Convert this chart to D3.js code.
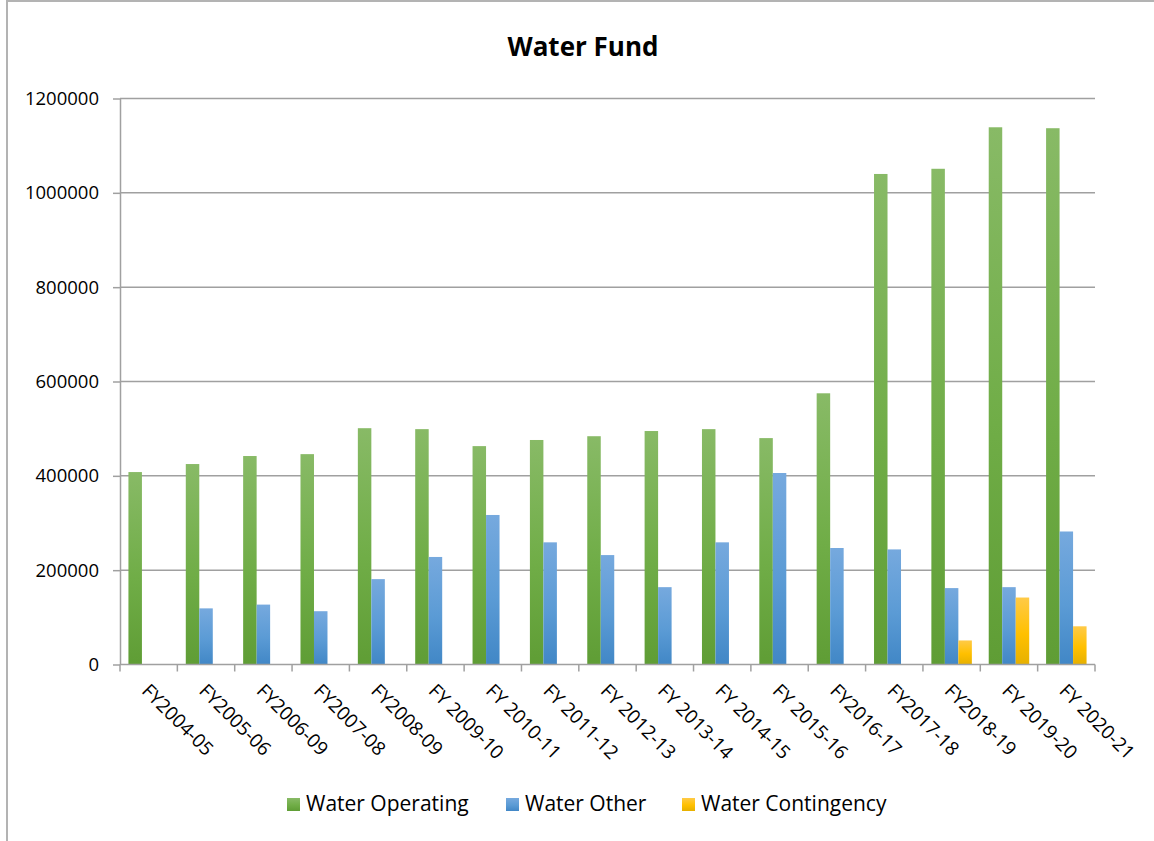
<!DOCTYPE html>
<html>
<head>
<meta charset="utf-8">
<script src="https://cdn.jsdelivr.net/npm/d3@7"></script>
<style>
  body { margin: 0; background: #fff; }
  svg { display: block; font-family: "Open Sans", "Liberation Sans", sans-serif; }
</style>
</head>
<body>
<svg id="chart" width="1154" height="841"></svg>
<script>
// data
var years = ["FY2004-05", "FY2005-06", "FY2006-09", "FY2007-08", "FY2008-09", "FY 2009-10",
    "FY 2010-11", "FY 2011-12", "FY 2012-13", "FY 2013-14", "FY 2014-15", "FY 2015-16",
    "FY2016-17", "FY2017-18", "FY2018-19", "FY 2019-20", "FY 2020-21"];
var water_operating = [408000, 425000, 442000, 446000, 501000, 499000, 463000, 476000, 484000,
    495000, 499000, 480000, 575000, 1040000, 1051000, 1139000, 1137000];
var water_other = [0, 119000, 127000, 113000, 181000, 228000, 317000, 259000, 232000,
    164000, 259000, 406000, 247000, 244000, 162000, 164000, 282000];
var water_contingency = [0, 0, 0, 0, 0, 0, 0, 0, 0, 0, 0, 0, 0, 0, 51000, 142000, 81000];
var series_names = ["Water Operating", "Water Other", "Water Contingency"];
var y_ticks = [0, 200000, 400000, 600000, 800000, 1000000, 1200000];

var svg = d3.select("#chart");

var plot_left = 120, plot_right = 1095, plot_top = 98.5, plot_bottom = 664.5;

// gradients like the office chart fill
var grads = [
    {id: "g_green", c: ["#88ba66", "#70ad47", "#5f9d35"]},
    {id: "g_blue", c: ["#76a9de", "#5b9bd5", "#4187c6"]},
    {id: "g_gold", c: ["#ffca47", "#ffc000", "#e6b000"]}
];
var defs = svg.append("defs");
grads.forEach(function (g) {
    var lg = defs.append("linearGradient").attr("id", g.id)
        .attr("x1", 0).attr("y1", 0).attr("x2", 0).attr("y2", 1);
    lg.append("stop").attr("offset", "0%").attr("stop-color", g.c[0]);
    lg.append("stop").attr("offset", "55%").attr("stop-color", g.c[1]);
    lg.append("stop").attr("offset", "100%").attr("stop-color", g.c[2]);
});

// outer frame
svg.append("rect")
    .attr("x", 7).attr("y", 1)
    .attr("width", 1200).attr("height", 900)
    .attr("fill", "none")
    .attr("stroke", "#b3b3b3")
    .attr("stroke-width", 2);

svg.append("text")
    .attr("x", 583).attr("y", 56)
    .attr("text-anchor", "middle")
    .attr("font-size", 26)
    .attr("font-weight", "bold")
    .attr("fill", "#000")
    .text("Water Fund");

var x = d3.scaleBand().domain(years).range([plot_left, plot_right]).paddingInner(0).paddingOuter(0);
var y = d3.scaleLinear().domain([0, 1200000]).range([plot_bottom, plot_top]);

var band = x.bandwidth();
var barW = band / 4.25;   // gap width 125%

// gridlines
svg.append("g").selectAll("line")
    .data(y_ticks.slice(1))
    .enter().append("line")
    .attr("x1", plot_left).attr("x2", plot_right)
    .attr("y1", function (d) { return y(d); })
    .attr("y2", function (d) { return y(d); })
    .attr("stroke", "#a0a0a0")
    .attr("stroke-width", 1.5);

// y axis
var yAxis = svg.append("g")
    .attr("transform", "translate(" + plot_left + ",0)")
    .call(d3.axisLeft(y).tickValues(y_ticks).tickSize(7).tickSizeOuter(0).tickPadding(14)
        .tickFormat(function (d) { return d; }));
yAxis.select(".domain").attr("stroke", "#a0a0a0").attr("stroke-width", 1.5);
yAxis.selectAll(".tick line").attr("stroke", "#a0a0a0").attr("stroke-width", 1.5);
yAxis.selectAll(".tick text")
    .attr("font-size", 18.5)
    .attr("font-family", "Open Sans")
    .attr("fill", "#000");

// bars
var all_series = [water_operating, water_other, water_contingency];
all_series.forEach(function (vals, si) {
    svg.append("g").selectAll("rect")
        .data(vals)
        .enter().append("rect")
        .attr("x", function (d, i) { return x(years[i]) + 0.625 * barW + si * barW; })
        .attr("y", function (d) { return y(d); })
        .attr("width", barW)
        .attr("height", function (d) { return y(0) - y(d); })
        .attr("fill", "url(#" + grads[si].id + ")");
});

// x axis
var tick_pos = years.map(function (d) { return x(d); }).concat([plot_right]);
svg.append("line")
    .attr("x1", plot_left).attr("x2", plot_right)
    .attr("y1", plot_bottom).attr("y2", plot_bottom)
    .attr("stroke", "#a0a0a0").attr("stroke-width", 1.5);
svg.append("g").selectAll("line")
    .data(tick_pos)
    .enter().append("line")
    .attr("x1", function (d) { return d; })
    .attr("x2", function (d) { return d; })
    .attr("y1", plot_bottom).attr("y2", plot_bottom + 7)
    .attr("stroke", "#a0a0a0").attr("stroke-width", 1.5);

svg.append("g").selectAll("text")
    .data(years)
    .enter().append("text")
    .attr("transform", function (d) {
        return "translate(" + (x(d) + band / 2 - 8) + "," + 692 + ") rotate(45)";
    })
    .attr("font-size", 19)
    .attr("fill", "#000")
    .text(function (d) { return d; });

// legend
var legend_x = [287, 506, 682];
var legend = svg.append("g").selectAll("g")
    .data(series_names)
    .enter().append("g")
    .attr("transform", function (d, i) { return "translate(" + legend_x[i] + ",798)"; });
legend.append("rect")
    .attr("width", 13).attr("height", 13)
    .attr("fill", function (d, i) { return "url(#" + grads[i].id + ")"; });
legend.append("text")
    .attr("x", 19).attr("y", 13)
    .attr("font-size", 21)
    .attr("fill", "#000")
    .text(function (d) { return d; });
</script>
</body>
</html>
